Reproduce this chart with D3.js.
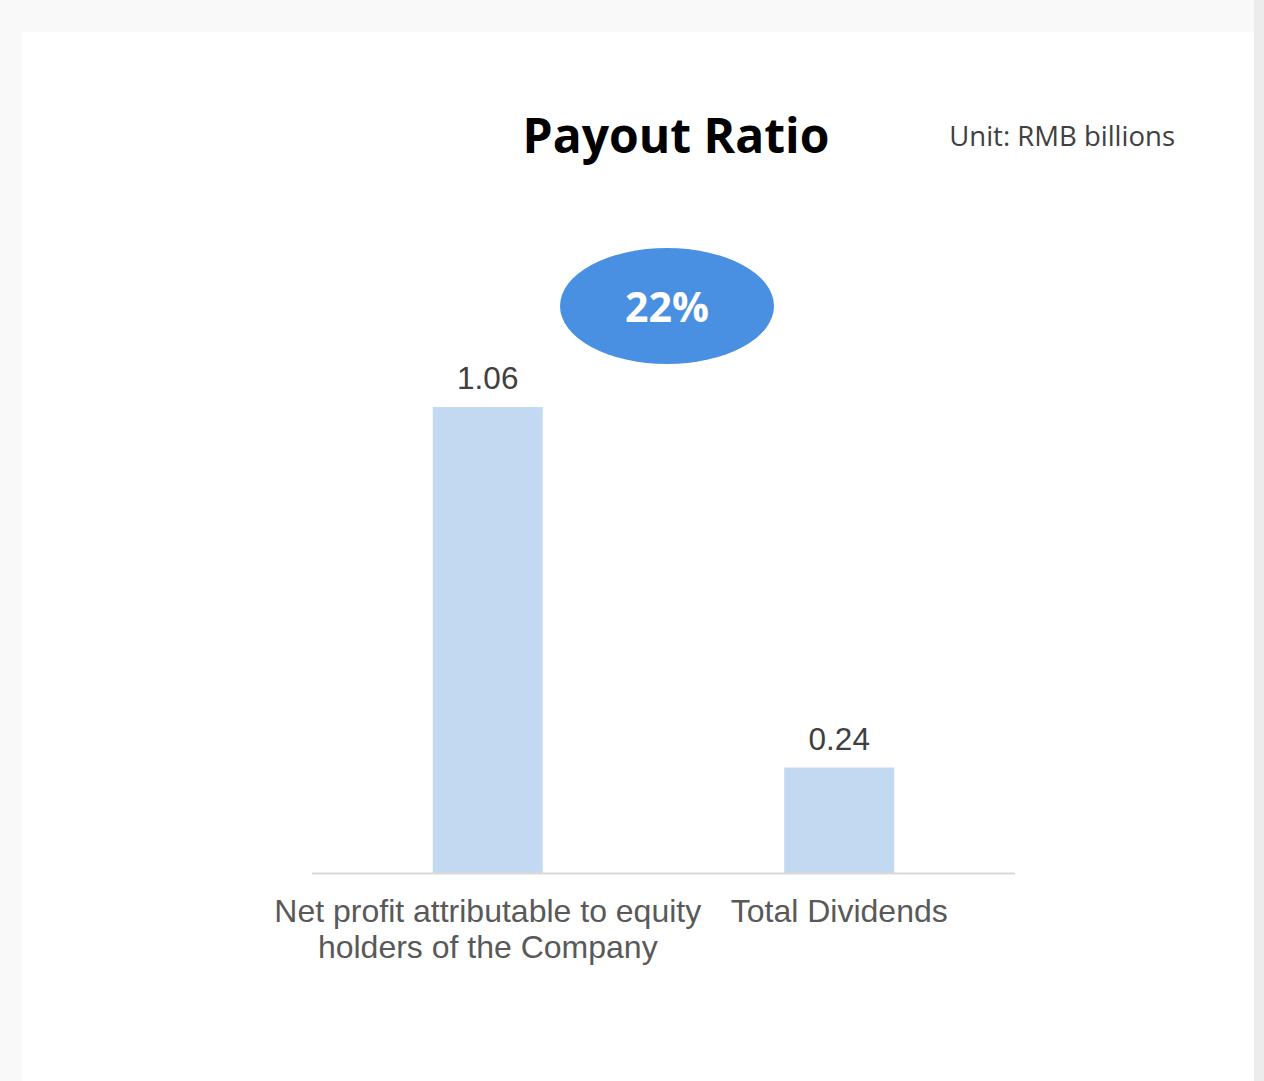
<!DOCTYPE html>
<html>
<head>
<meta charset="utf-8">
<script src="https://cdn.jsdelivr.net/npm/d3@7"></script>
<style>
  html, body { margin: 0; padding: 0; background: #f9f9f9; }
  svg { display: block; }
</style>
</head>
<body>
<svg id="chart" width="1264" height="1081"></svg>
<script>
var categories = ["Net profit attributable to equity|holders of the Company", "Total Dividends"]
var values = [1.06, 0.24]
var valueLabels = ["1.06", "0.24"]
var payoutRatio = "22%"
var title = "Payout Ratio"
var unitText = "Unit: RMB billions"

var svg = d3.select("#chart")
var width = parseFloat(svg.attr("width"))
var height = parseFloat(svg.attr("height"))

// page background + card
svg.append("rect").attr("x", 0).attr("y", 0).attr("width", width).attr("height", height).attr("fill", "#f9f9f9")
svg.append("rect").attr("x", 1254).attr("y", 0).attr("width", 10).attr("height", height).attr("fill", "#ececec")
svg.append("rect").attr("x", 22).attr("y", 32).attr("width", 1232).attr("height", height - 32).attr("fill", "#ffffff")

var baseline = 873
var x = d3.scaleBand()
    .domain(categories)
    .range([312, 1015])
    .paddingInner(0.687)
    .paddingOuter(0.3435)

var y = d3.scaleLinear()
    .domain([0, 1.2])
    .range([baseline, baseline - 527.5])

svg.append("text")
    .attr("x", 676)
    .attr("y", 153)
    .attr("text-anchor", "middle")
    .attr("font-family", "'Open Sans', 'Noto Sans', sans-serif")
    .attr("font-weight", "bold")
    .attr("font-size", 48)
    .attr("fill", "#000")
    .text(title)

svg.append("text")
    .attr("x", 1175)
    .attr("y", 146)
    .attr("text-anchor", "end")
    .attr("font-family", "'Open Sans', 'Noto Sans', sans-serif")
    .attr("font-size", 27.5)
    .attr("fill", "#404040")
    .text(unitText)

svg.selectAll(".bar")
    .data(values)
    .enter()
    .append("rect")
    .attr("class", "bar")
    .attr("x", function(d, i){ return x(categories[i]) })
    .attr("y", function(d){ return y(d) })
    .attr("width", x.bandwidth())
    .attr("height", function(d){ return y(0) - y(d) })
    .attr("fill", "#c3d9f1")

svg.append("line")
    .attr("x1", 312).attr("x2", 1015)
    .attr("y1", baseline + 0.5).attr("y2", baseline + 0.5)
    .attr("stroke", "#d9d9d9")
    .attr("stroke-width", 2)

svg.selectAll(".vlabel")
    .data(values)
    .enter()
    .append("text")
    .attr("class", "vlabel")
    .attr("x", function(d, i){ return x(categories[i]) + x.bandwidth() / 2 })
    .attr("y", function(d){ return y(d) - 18 })
    .attr("text-anchor", "middle")
    .attr("font-family", "'Liberation Sans', Arial, sans-serif")
    .attr("font-size", 31.5)
    .attr("fill", "#404040")
    .text(function(d, i){ return valueLabels[i] })

var cat = svg.selectAll(".clabel")
    .data(categories)
    .enter()
    .append("text")
    .attr("class", "clabel")
    .attr("text-anchor", "middle")
    .attr("font-family", "'Liberation Sans', Arial, sans-serif")
    .attr("font-size", 32)
    .attr("fill", "#595959")
cat.selectAll("tspan")
    .data(function(d){ return d.split("|").map(function(t){ return {t: t, c: d} }) })
    .enter()
    .append("tspan")
    .attr("x", function(d){ return x(d.c) + x.bandwidth() / 2 })
    .attr("y", function(d, i){ return 922 + i * 36 })
    .text(function(d){ return d.t })

// payout ratio bubble
svg.append("ellipse")
    .attr("cx", 667).attr("cy", 306)
    .attr("rx", 107).attr("ry", 58)
    .attr("fill", "#4a90e2")
svg.append("text")
    .attr("x", 667)
    .attr("y", 322)
    .attr("text-anchor", "middle")
    .attr("font-family", "'Open Sans', 'Noto Sans', sans-serif")
    .attr("font-weight", "bold")
    .attr("font-size", 41)
    .attr("fill", "#fff")
    .text(payoutRatio)
</script>
</body>
</html>
